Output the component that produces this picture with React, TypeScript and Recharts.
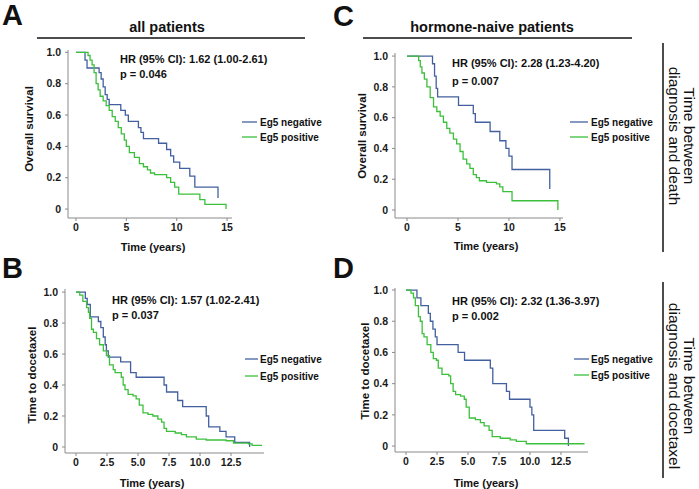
import React from "react";
import { LineChart, Line, XAxis, YAxis } from "recharts";

// Kaplan-Meier steps: [time (years), fraction]
const deathAllNeg = [[0, 1], [0.9, 0.95], [1.1, 0.9], [2.3, 0.87], [2.5, 0.83], [2.7, 0.78], [2.9, 0.73], [3.1, 0.7], [3.3, 0.667], [4.45, 0.63], [4.9, 0.6], [5.2, 0.56], [6.2, 0.52], [6.45, 0.49], [6.7, 0.45], [8.2, 0.42], [9.0, 0.38], [9.4, 0.34], [9.7, 0.3], [10.3, 0.26], [11.3, 0.21], [11.8, 0.14], [14.1, 0.07]];
const deathAllPos = [[0, 1], [1.2, 0.98], [1.4, 0.95], [1.6, 0.92], [1.8, 0.87], [2.0, 0.8], [2.2, 0.76], [2.4, 0.72], [2.7, 0.69], [3.0, 0.66], [3.3, 0.63], [3.6, 0.59], [3.9, 0.56], [4.2, 0.52], [4.5, 0.48], [4.8, 0.44], [5.0, 0.4], [5.3, 0.36], [5.8, 0.33], [6.3, 0.29], [6.7, 0.27], [7.1, 0.25], [7.4, 0.23], [7.8, 0.22], [9.0, 0.2], [9.4, 0.17], [9.8, 0.14], [10.2, 0.095], [12.3, 0.06], [12.8, 0.03], [14.9, 0.0]];

const deathNaiveNeg = [[0, 1], [2.5, 0.95], [2.7, 0.87], [2.86, 0.79], [3.0, 0.735], [5.05, 0.68], [6.5, 0.626], [6.7, 0.57], [8.15, 0.51], [9.1, 0.45], [9.7, 0.4], [10.0, 0.35], [10.3, 0.263], [14.0, 0.136]];
const deathNaivePos = [[0, 1], [1.14, 0.97], [1.3, 0.93], [1.46, 0.89], [1.7, 0.85], [1.95, 0.8], [2.27, 0.73], [2.6, 0.67], [2.92, 0.64], [3.25, 0.61], [3.57, 0.57], [3.9, 0.53], [4.2, 0.5], [4.55, 0.46], [4.87, 0.43], [5.2, 0.38], [5.5, 0.33], [5.85, 0.3], [6.17, 0.27], [6.5, 0.23], [6.8, 0.21], [7.1, 0.19], [7.8, 0.18], [8.77, 0.17], [9.1, 0.15], [9.4, 0.12], [10.3, 0.06], [14.8, 0.0]];

const docAllNeg = [[0, 1], [0.75, 0.96], [0.9, 0.92], [1.15, 0.84], [1.8, 0.81], [2.0, 0.77], [2.2, 0.71], [2.35, 0.66], [2.45, 0.62], [2.6, 0.58], [3.6, 0.55], [4.4, 0.48], [4.85, 0.45], [7.1, 0.4], [7.3, 0.355], [8.2, 0.3], [8.6, 0.26], [10.5, 0.2], [10.7, 0.13], [11.6, 0.1], [12.1, 0.065], [12.8, 0.03], [14.0, 0.0]];
const docAllPos = [[0, 1], [0.3, 0.98], [0.55, 0.94], [0.85, 0.9], [1.0, 0.87], [1.1, 0.83], [1.25, 0.76], [1.4, 0.74], [1.65, 0.7], [1.9, 0.66], [2.2, 0.62], [2.45, 0.59], [2.7, 0.53], [3.0, 0.5], [3.15, 0.48], [3.65, 0.45], [3.8, 0.4], [3.95, 0.37], [4.2, 0.34], [4.6, 0.33], [4.85, 0.31], [5.1, 0.27], [5.4, 0.22], [5.8, 0.21], [6.2, 0.2], [6.6, 0.18], [6.9, 0.16], [7.1, 0.12], [7.3, 0.1], [8.0, 0.09], [8.5, 0.08], [8.9, 0.065], [9.7, 0.05], [10.5, 0.045], [12.1, 0.04], [12.7, 0.025], [13.9, 0.02], [14.2, 0.01], [15.0, 0.01]];

const docNaiveNeg = [[0, 1], [0.88, 0.95], [1.2, 0.9], [1.8, 0.85], [1.96, 0.8], [2.17, 0.75], [2.36, 0.7], [2.5, 0.65], [4.2, 0.6], [4.72, 0.55], [6.8, 0.5], [7.0, 0.4], [8.1, 0.35], [8.35, 0.3], [10.0, 0.25], [10.15, 0.2], [10.3, 0.1], [12.8, 0.05], [13.1, 0.0]];
const docNaivePos = [[0, 1], [0.4, 0.98], [0.6, 0.95], [0.75, 0.9], [1.0, 0.83], [1.15, 0.8], [1.3, 0.72], [1.45, 0.7], [1.7, 0.65], [2.0, 0.6], [2.2, 0.56], [2.45, 0.55], [2.6, 0.5], [2.9, 0.46], [3.45, 0.45], [3.6, 0.4], [3.8, 0.35], [4.0, 0.33], [4.4, 0.32], [4.7, 0.3], [4.85, 0.25], [5.1, 0.18], [5.6, 0.17], [6.0, 0.15], [6.3, 0.13], [6.7, 0.1], [6.95, 0.06], [7.6, 0.05], [8.4, 0.04], [8.9, 0.03], [9.7, 0.015], [14.4, 0.015]];

const yTicks = [0, 0.2, 0.4, 0.6, 0.8, 1.0];
const xTicksDeath = [0, 5, 10, 15];
const xTicksDoc = [0, 2.5, 5, 7.5, 10, 12.5];

const hrLabels = ["HR (95% CI): 1.62 (1.00-2.61)", "HR (95% CI): 2.28 (1.23-4.20)", "HR (95% CI): 1.57 (1.02-2.41)", "HR (95% CI): 2.32 (1.36-3.97)"];
const pLabels = ["p = 0.046", "p = 0.007", "p = 0.037", "p = 0.002"];

const FONT = "'Liberation Sans', Arial, Helvetica, sans-serif";
const NEG = "#42609f";
const POS = "#3cc03c";
const AXIS = "#8a8a8a";

const toPts = (arr: number[][]) => arr.map(([t, s]) => ({ t, s }));
const fmtY = (v: number) => (v === 0 ? "0" : v.toFixed(1));
const fmtDoc = (v: number) => (v === 0 ? "0" : v.toFixed(1));

type PanelProps = {
  left: number;
  top: number;
  width: number;
  height: number;
  margin: { top: number; right: number; bottom: number; left: number };
  xDomain: [number, number];
  yDomain: [number, number];
  xTicks: number[];
  xFmt?: (v: number) => string;
  neg: number[][];
  pos: number[][];
};

function KMPanel(p: PanelProps) {
  const tick = { fontSize: 10.5, fontWeight: 700, fill: "#1a1a1a", fontFamily: FONT };
  return (
    <div style={{ position: "absolute", left: p.left, top: p.top }}>
      <LineChart width={p.width} height={p.height} margin={p.margin}>
        <XAxis
          type="number"
          dataKey="t"
          domain={p.xDomain}
          ticks={p.xTicks}
          allowDataOverflow
          height={20}
          tickFormatter={p.xFmt}
          tick={tick}
          tickSize={3}
          tickMargin={3}
          axisLine={{ stroke: AXIS }}
          tickLine={{ stroke: AXIS }}
        />
        <YAxis
          type="number"
          domain={p.yDomain}
          ticks={yTicks}
          allowDataOverflow
          width={30}
          tickFormatter={fmtY}
          tick={tick}
          tickSize={3}
          tickMargin={4}
          axisLine={{ stroke: AXIS }}
          tickLine={{ stroke: AXIS }}
        />
        <Line data={toPts(p.neg)} dataKey="s" type="stepAfter" stroke={NEG} strokeWidth={1.3} dot={false} isAnimationActive={false} />
        <Line data={toPts(p.pos)} dataKey="s" type="stepAfter" stroke={POS} strokeWidth={1.3} dot={false} isAnimationActive={false} />
      </LineChart>
    </div>
  );
}

function Legend({ x, y, tx }: { x: [number, number]; y: [number, number]; tx: number }) {
  return (
    <g>
      <line x1={x[0]} x2={x[1]} y1={y[0]} y2={y[0]} stroke={NEG} strokeWidth={1.3} />
      <text x={tx} y={y[0]} dominantBaseline="central" fontSize={10} fontWeight={700}>Eg5 negative</text>
      <line x1={x[0]} x2={x[1]} y1={y[1]} y2={y[1]} stroke={POS} strokeWidth={1.3} />
      <text x={tx} y={y[1]} dominantBaseline="central" fontSize={10} fontWeight={700}>Eg5 positive</text>
    </g>
  );
}

export default function App() {
  return (
    <div style={{ position: "absolute", left: 0, top: 0, width: 699, height: 489, background: "#fff", fontFamily: FONT }}>
      <KMPanel left={0} top={0} width={240} height={240} margin={{ top: 50, right: 8, bottom: 2, left: 38 }}
        xDomain={[-0.79, 15.49]} yDomain={[-0.057, 1.015]} xTicks={xTicksDeath} neg={deathAllNeg} pos={deathAllPos} />
      <KMPanel left={330} top={0} width={240} height={240} margin={{ top: 53, right: 7, bottom: 2, left: 35 }}
        xDomain={[-1.18, 15.3]} yDomain={[-0.052, 1.02]} xTicks={xTicksDeath} neg={deathNaiveNeg} pos={deathNaivePos} />
      <KMPanel left={0} top={260} width={270} height={215} margin={{ top: 29, right: 6, bottom: 2, left: 35 }}
        xDomain={[-0.89, 15.16]} yDomain={[-0.039, 1.02]} xTicks={xTicksDoc} xFmt={fmtDoc} neg={docAllNeg} pos={docAllPos} />
      <KMPanel left={330} top={260} width={265} height={215} margin={{ top: 28, right: 7, bottom: 3, left: 35 }}
        xDomain={[-0.89, 14.68]} yDomain={[-0.038, 1.013]} xTicks={xTicksDoc} xFmt={fmtDoc} neg={docNaiveNeg} pos={docNaivePos} />

      <svg width={699} height={489} style={{ position: "absolute", left: 0, top: 0, pointerEvents: "none" }} fontFamily={FONT} fill="#111">
        {/* panel letters */}
        <text x={2} y={25} fontSize={29} fontWeight={700}>A</text>
        <text x={333} y={26} fontSize={29} fontWeight={700}>C</text>
        <text x={2} y={278} fontSize={29} fontWeight={700}>B</text>
        <text x={333} y={278} fontSize={29} fontWeight={700}>D</text>

        {/* column headers */}
        <text x={167} y={32} fontSize={14.5} fontWeight={700} textAnchor="middle">all patients</text>
        <line x1={37} x2={305} y1={38} y2={38} stroke="#111" strokeWidth={1.5} />
        <text x={492} y={32} fontSize={14.5} fontWeight={700} textAnchor="middle">hormone-naive patients</text>
        <line x1={363} x2={632} y1={38} y2={38} stroke="#111" strokeWidth={1.5} />

        {/* HR / p */}
        <text x={120} y={63} fontSize={11} fontWeight={700}>{hrLabels[0]}</text>
        <text x={120} y={78} fontSize={11} fontWeight={700}>{pLabels[0]}</text>
        <text x={452} y={67} fontSize={11} fontWeight={700}>{hrLabels[1]}</text>
        <text x={452} y={85} fontSize={11} fontWeight={700}>{pLabels[1]}</text>
        <text x={112} y={304} fontSize={11} fontWeight={700}>{hrLabels[2]}</text>
        <text x={112} y={319} fontSize={11} fontWeight={700}>{pLabels[2]}</text>
        <text x={452} y={305} fontSize={11} fontWeight={700}>{hrLabels[3]}</text>
        <text x={452} y={320} fontSize={11} fontWeight={700}>{pLabels[3]}</text>

        {/* legends */}
        <Legend x={[242, 257]} y={[122, 137]} tx={260} />
        <Legend x={[570, 588]} y={[122, 137]} tx={591} />
        <Legend x={[245, 258]} y={[359, 376]} tx={260} />
        <Legend x={[574, 589]} y={[359, 375]} tx={591} />

        {/* axis titles */}
        <text x={0} y={0} transform="translate(29,129) rotate(-90)" textAnchor="middle" dominantBaseline="central" fontSize={11.5} fontWeight={700}>Overall survival</text>
        <text x={0} y={0} transform="translate(362,136) rotate(-90)" textAnchor="middle" dominantBaseline="central" fontSize={11.5} fontWeight={700}>Overall survival</text>
        <text x={0} y={0} transform="translate(32,375) rotate(-90)" textAnchor="middle" dominantBaseline="central" fontSize={11.5} fontWeight={700}>Time to docetaxel</text>
        <text x={0} y={0} transform="translate(365,371) rotate(-90)" textAnchor="middle" dominantBaseline="central" fontSize={11.5} fontWeight={700}>Time to docetaxel</text>
        <text x={153} y={247} textAnchor="middle" dominantBaseline="central" fontSize={11} fontWeight={700}>Time (years)</text>
        <text x={486} y={246} textAnchor="middle" dominantBaseline="central" fontSize={11} fontWeight={700}>Time (years)</text>
        <text x={152} y={483} textAnchor="middle" dominantBaseline="central" fontSize={11} fontWeight={700}>Time (years)</text>
        <text x={486} y={483} textAnchor="middle" dominantBaseline="central" fontSize={11} fontWeight={700}>Time (years)</text>

        {/* row labels */}
        <line x1={663} x2={663} y1={43} y2={252} stroke="#111" strokeWidth={1.5} />
        <line x1={663} x2={663} y1={282} y2={478} stroke="#111" strokeWidth={1.5} />
        <text x={0} y={0} transform="translate(689,136) rotate(90)" textAnchor="middle" dominantBaseline="central" fontSize={15.5}>Time between</text>
        <text x={0} y={0} transform="translate(674,136) rotate(90)" textAnchor="middle" dominantBaseline="central" fontSize={15.5}>diagnosis and death</text>
        <text x={0} y={0} transform="translate(689,386) rotate(90)" textAnchor="middle" dominantBaseline="central" fontSize={15.5}>Time between</text>
        <text x={0} y={0} transform="translate(674,386) rotate(90)" textAnchor="middle" dominantBaseline="central" fontSize={15.5}>diagnosis and docetaxel</text>
      </svg>
    </div>
  );
}
